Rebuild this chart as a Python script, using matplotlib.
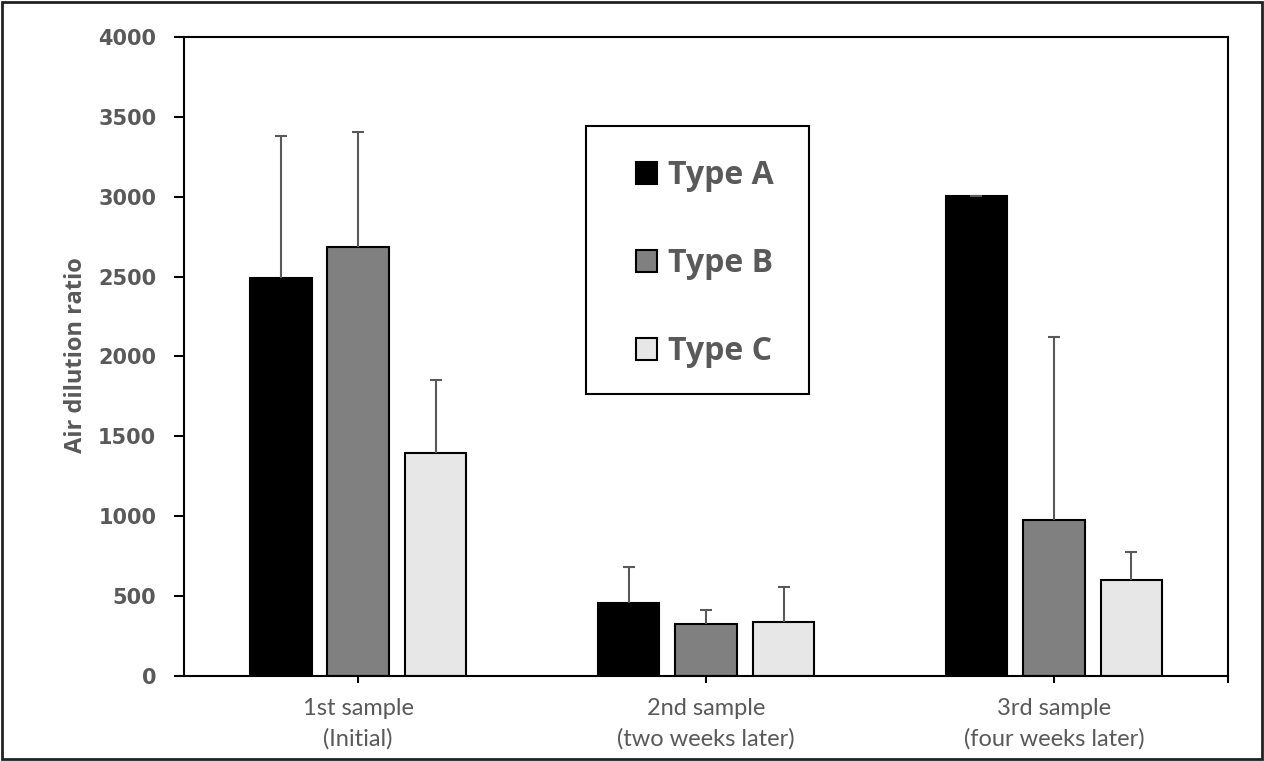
import numpy as np
import matplotlib.pyplot as plt
from matplotlib.patches import Rectangle, Patch

# valeurs
samples = ["1st sample\n(Initial)", "2nd sample\n(two weeks later)", "3rd sample\n(four weeks later)"]
types = ["Type A", "Type B", "Type C"]
mean_a = [2490, 455, 3005]
mean_b = [2685, 325, 975]
mean_c = [1395, 335, 600]
err_a = [890, 225, 0]
err_b = [720, 90, 1150]
err_c = [460, 220, 175]
colors = ["#000000", "#808080", "#e7e7e7"]
yticks = [0, 500, 1000, 1500, 2000, 2500, 3000, 3500, 4000]

txt_gray = "#595959"

fig = plt.figure(figsize=(12.64, 7.61), dpi=100)
ax = fig.add_axes([0.1456, 0.1117, 0.8259, 0.8397])

x = np.arange(len(samples))
width = 0.178
offset = 0.2227
means = [mean_a, mean_b, mean_c]
errs = [err_a, err_b, err_c]
for i in range(3):
    bc = ax.bar(x + (i - 1) * offset, means[i], width, color=colors[i],
                edgecolor="black", linewidth=1.5,
                yerr=[np.zeros(3), errs[i]], ecolor=txt_gray,
                error_kw=dict(elinewidth=1.5, capsize=4, capthick=1.5), zorder=2)
    # seulement le trait du haut
    caps = bc.errorbar.lines[1]
    caps[0].set_visible(False)

ax.set_xlim(-0.5, 2.5)
ax.set_ylim(0, 4000)
ax.set_yticks(yticks)
ax.set_yticklabels([str(v) for v in yticks], fontsize=15, fontweight="bold",
                   color=txt_gray, family="DejaVu Sans")
ax.set_xticks(x)
ax.set_xticklabels(samples, fontsize=17, color=txt_gray, family="Lato", linespacing=1.5)
ax.set_xticks([2.5], minor=True)
ax.tick_params(axis="y", direction="out", length=7, width=1.5, pad=13)
ax.tick_params(axis="x", which="both", direction="out", length=5, width=1.5, pad=11)

for s in ax.spines.values():
    s.set_linewidth(1.5)
    s.set_color("black")

fig.text(0.0605, 0.533, "Air dilution ratio", rotation=90, ha="center", va="center",
         fontsize=17, fontweight="bold", color=txt_gray, family="Open Sans")

# cadre de la légende
lx, ly, lw, lh = 586 / 1264, 1 - 394 / 761, 223 / 1264, 268 / 761
fig.patches.append(Rectangle((lx, ly), lw, lh, transform=fig.transFigure,
                             facecolor="white", edgecolor="black", linewidth=1.5, zorder=3))
handles = [Patch(facecolor=colors[i], edgecolor="black", linewidth=1.5) for i in range(3)]
leg = fig.legend(handles, types, loc="center", bbox_to_anchor=(lx + lw / 2 + 0.0055, ly + lh / 2 - 0.005),
                 bbox_transform=fig.transFigure, frameon=False, handlelength=0.68,
                 handleheight=0.68, handletextpad=0.32, labelspacing=1.72,
                 prop={"family": "Open Sans", "weight": "bold", "size": 23})
leg.set_zorder(4)
for t in leg.get_texts():
    t.set_color(txt_gray)

# cadre extérieur
fig.patches.append(Rectangle((0.0015, 0.002), 0.997, 0.996, transform=fig.transFigure,
                             facecolor="none", edgecolor="#222222", linewidth=2))

fig.savefig("out.png", dpi=100)
